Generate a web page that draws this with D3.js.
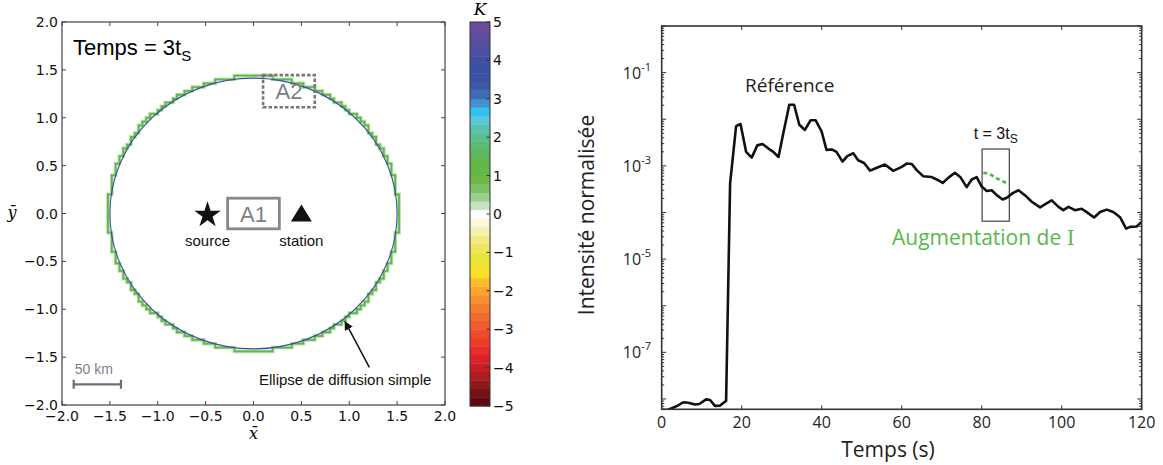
<!DOCTYPE html>
<html><head><meta charset="utf-8">
<script src="https://cdn.jsdelivr.net/npm/d3@7"></script>
<style>body{margin:0;background:#fff}svg{display:block}</style>
</head><body>
<svg id="c" width="1163" height="465"></svg>
<script>
// ---------- DATA ----------
// Left panel (normalised coordinates)
const mapTicks = [-2, -1.5, -1, -0.5, 0, 0.5, 1, 1.5, 2];
const mapTickLabels = ["\u22122.0","\u22121.5","\u22121.0","\u22120.5","0.0","0.5","1.0","1.5","2.0"];
const sourcePos = [-0.48, 0];
const stationPos = [0.50, 0];
const ellipseSemiAxes = [1.5, 1.414];     // single-scattering ellipse (a, b)
const sensitivityRing = 1.012;            // K>0 zone boundary (relative radius)
const gridCells = 100;                    // sensitivity-grid resolution
const regionA1 = [-0.27, 0.27, -0.16, 0.16];
const regionA2 = [0.10, 0.64, 1.11, 1.445];
const scaleBarKm = [-1.878, -1.384, -1.784];
const arrowFromTo = [[1.21, -1.606], [0.956, -1.13]];
// Colour bar
const cbarTicks = [5, 4, 3, 2, 1, 0, -1, -2, -3, -4, -5];
const cbarColors = [ // from K=-5 (bottom) to K=5 (top), 45 bands
 "#5c0912","#741118","#8e1a1f","#ab1c23","#c51f26","#dc2228","#e92c29","#ec3c2a","#ee4b2b",
 "#f05a2c","#f26a2d","#f47d2e","#f7912f","#f9a52e","#fcbc2b","#fddc2a","#f0e52e","#ebe63a",
 "#eee75e","#f2eb85","#f6f1b2","#fbf8d8","#ffffff","#c6e4c1","#9dd08f","#7dc168","#6cba45",
 "#64b846","#62b749","#5fb75a","#5cb972","#5bbd90","#5bc1b1","#5cc8d9","#2fc3ef","#4191d1",
 "#3e6cb3","#3b5ba9","#3953a5","#3b52a4","#4151a2","#4a50a0","#554f9f","#5f4e9e","#6a4c9c"];
// Right panel: reference intensity vs time
const timeS = [0,1.25,2.5,3.9,5.4,6.65,8.3,9.4,11.1,12.1,13.3,14.6,15.8,16.1,17.1,18.6,19.7,21.1,22.5,23.9,
 25.2,26.7,27.9,29.2,30.4,31.9,33.1,34.4,35.8,37.2,38.5,40.0,41.2,42.5,43.7,45.2,46.4,47.9,49.1,50.6,
 52.1,53.5,55.8,57.9,60.0,61.25,62.5,63.75,65.4,67.5,68.75,70.25,71.7,73.3,74.75,76.25,77.5,78.75,80.0,81.25,
 82.5,83.75,85.25,86.4,87.75,89.2,90.8,92.5,94.6,96.1,97.5,99.2,100.4,101.7,103.3,105.0,106.25,108.1,109.6,111.25,
 112.9,114.6,116.1,117.1,118.75,120];
const intensity = [5.75e-9,5.75e-9,6.3e-9,7.1e-9,8.5e-9,8.3e-9,7.6e-9,7.8e-9,9.8e-9,9.5e-9,7.1e-9,7.2e-9,8.7e-9,9.1e-9,4.2e-4,7.1e-3,7.9e-3,2.0e-3,1.5e-3,2.75e-3,
 2.95e-3,2.35e-3,2.0e-3,1.55e-3,5.0e-3,2.05e-2,2.05e-2,7.6e-3,5.9e-3,9.5e-3,9.5e-3,5.4e-3,2.2e-3,2.25e-3,2.0e-3,1.23e-3,1.62e-3,1.86e-3,1.32e-3,1.15e-3,
 7.9e-4,8.9e-4,1.07e-3,7.8e-4,9.5e-4,1.12e-3,1.10e-3,8.1e-4,6.0e-4,5.75e-4,5.1e-4,4.3e-4,5.6e-4,7.1e-4,5.6e-4,3.5e-4,5.1e-4,5.75e-4,3.6e-4,2.9e-4,
 3.0e-4,2.35e-4,1.9e-4,2.1e-4,2.6e-4,3.0e-4,2.35e-4,1.7e-4,1.29e-4,1.55e-4,1.82e-4,1.32e-4,1.12e-4,1.32e-4,1.12e-4,1.2e-4,1.02e-4,7.8e-5,1.02e-4,1.15e-4,
 1.02e-4,7.9e-5,4.5e-5,4.9e-5,5.0e-5,6.3e-5];
// Perturbed intensity (green) around t = 3 ts
const timePert = [80.4, 81.4, 82.5, 83.75, 86.4];
const intensityPert = [7.1e-4, 6.9e-4, 6.3e-4, 5.4e-4, 4.2e-4];
const windowBox = [80.1, 86.9, 6.5e-5, 2.3e-3];
const timeTicks = [0, 20, 40, 60, 80, 100, 120];
const intensityLabelExp = [-1, -3, -5, -7];

// ---------- DRAW ----------
const svg = d3.select("#c");
const dejavu = "'DejaVu Sans', sans-serif";
const arial = "'Liberation Sans', Arial, sans-serif";
const myriad = "'Open Sans', 'Noto Sans', sans-serif";

// ===== Left panel =====
const lx = d3.scaleLinear([-2, 2], [62, 445]);
const ly = d3.scaleLinear([-2, 2], [405, 22]);
const L = svg.append("g");
L.append("clipPath").attr("id","clipL").append("rect")
 .attr("x",lx(-2)).attr("y",ly(2)).attr("width",lx(2)-lx(-2)).attr("height",ly(-2)-ly(2));

// sensitivity staircase ring
const [ea, eb] = ellipseSemiAxes;
const cs = 4 / gridCells;
const inside = (i, j) => {
  if (i < 0 || j < 0 || i >= gridCells || j >= gridCells) return false;
  const x = -2 + (i + 0.5) * cs, y = -2 + (j + 0.5) * cs;
  return Math.hypot(x / ea, y / eb) <= sensitivityRing;
};
let ringPath = "";
for (let i = 0; i < gridCells; i++) for (let j = 0; j < gridCells; j++) {
  if (!inside(i, j)) continue;
  const x0 = lx(-2 + i * cs), x1 = lx(-2 + (i + 1) * cs);
  const y0 = ly(-2 + j * cs), y1 = ly(-2 + (j + 1) * cs);
  if (!inside(i - 1, j)) ringPath += `M${x0},${y0}L${x0},${y1}`;
  if (!inside(i + 1, j)) ringPath += `M${x1},${y0}L${x1},${y1}`;
  if (!inside(i, j - 1)) ringPath += `M${x0},${y0}L${x1},${y0}`;
  if (!inside(i, j + 1)) ringPath += `M${x0},${y1}L${x1},${y1}`;
}
const gR = L.append("g").attr("clip-path","url(#clipL)");
gR.append("path").attr("d", ringPath).attr("fill","none").attr("stroke","#b9e0a8")
 .attr("stroke-width",3.6).attr("stroke-linecap","square");
gR.append("path").attr("d", ringPath).attr("fill","none").attr("stroke","#5fb848")
 .attr("stroke-width",1.8).attr("stroke-linecap","square");
gR.append("ellipse").attr("cx",lx(0)).attr("cy",ly(0))
 .attr("rx",lx(ea)-lx(0)).attr("ry",ly(0)-ly(eb))
 .attr("fill","none").attr("stroke","#3b4ea6").attr("stroke-width",1.1);

// frame
L.append("rect").attr("x",lx(-2)).attr("y",ly(2)).attr("width",lx(2)-lx(-2)).attr("height",ly(-2)-ly(2))
 .attr("fill","none").attr("stroke","#444").attr("stroke-width",1.2);
// ticks (inside, all sides)
mapTicks.forEach(t => {
  L.append("line").attr("x1",lx(t)).attr("x2",lx(t)).attr("y1",ly(-2)).attr("y2",ly(-2)-4).attr("stroke","#444");
  L.append("line").attr("x1",lx(t)).attr("x2",lx(t)).attr("y1",ly(2)).attr("y2",ly(2)+4).attr("stroke","#444");
  L.append("line").attr("y1",ly(t)).attr("y2",ly(t)).attr("x1",lx(-2)).attr("x2",lx(-2)+4).attr("stroke","#444");
  L.append("line").attr("y1",ly(t)).attr("y2",ly(t)).attr("x1",lx(2)).attr("x2",lx(2)-4).attr("stroke","#444");
});
mapTicks.forEach((t, k) => {
  L.append("text").attr("x",lx(t)).attr("y",ly(-2)+16).attr("text-anchor","middle")
   .attr("font-family",dejavu).attr("font-size",14).attr("fill","#111").text(mapTickLabels[k]);
  L.append("text").attr("x",lx(-2)-4).attr("y",ly(t)+5).attr("text-anchor","end")
   .attr("font-family",dejavu).attr("font-size",14).attr("fill","#111").text(mapTickLabels[k]);
});
L.append("text").attr("x",(lx(-2)+lx(2))/2).attr("y",439).attr("text-anchor","middle")
 .attr("font-family","'DejaVu Serif', serif").attr("font-style","italic").attr("font-size",16).text("x\u0304");
L.append("text").attr("x",12).attr("y",ly(0)+4).attr("text-anchor","middle")
 .attr("font-family","'DejaVu Serif', serif").attr("font-style","italic").attr("font-size",16).text("\u0233");

// title text
const tt = L.append("text").attr("x",lx(-1.885)).attr("y",ly(1.655))
 .attr("font-family",arial).attr("font-size",22).attr("fill","#000");
tt.append("tspan").text("Temps = 3t");
tt.append("tspan").attr("font-size",15).attr("dy",6).text("S");

// regions A1, A2
L.append("rect").attr("x",lx(regionA1[0])).attr("y",ly(regionA1[3]))
 .attr("width",lx(regionA1[1])-lx(regionA1[0])).attr("height",ly(regionA1[2])-ly(regionA1[3]))
 .attr("fill","none").attr("stroke","#888").attr("stroke-width",2.8);
L.append("text").attr("x",lx((regionA1[0]+regionA1[1])/2)).attr("y",ly(0)+8).attr("text-anchor","middle")
 .attr("font-family",arial).attr("font-size",22).attr("fill","#808080").text("A1");
L.append("rect").attr("x",lx(regionA2[0])).attr("y",ly(regionA2[3]))
 .attr("width",lx(regionA2[1])-lx(regionA2[0])).attr("height",ly(regionA2[2])-ly(regionA2[3]))
 .attr("fill","none").attr("stroke","#777").attr("stroke-width",2.6).attr("stroke-dasharray","3.5,2");
L.append("text").attr("x",lx((regionA2[0]+regionA2[1])/2)).attr("y",ly((regionA2[2]+regionA2[3])/2)+8)
 .attr("text-anchor","middle").attr("font-family",arial).attr("font-size",22).attr("fill","#808080").text("A2");

// source star & station triangle
L.append("path").attr("d", d3.symbol(d3.symbolStar, 215)())
 .attr("transform",`translate(${lx(sourcePos[0])},${ly(sourcePos[1])+1.5})`).attr("fill","#111");
const triS = 10.5;
L.append("path").attr("d",`M0,${-triS*0.85}L${triS},${triS*0.75}L${-triS},${triS*0.75}Z`)
 .attr("transform",`translate(${lx(stationPos[0])},${ly(stationPos[1])})`).attr("fill","#111");
L.append("text").attr("x",lx(sourcePos[0])).attr("y",ly(sourcePos[1])+32).attr("text-anchor","middle")
 .attr("font-family",arial).attr("font-size",15).attr("fill","#111").text("source");
L.append("text").attr("x",lx(stationPos[0])).attr("y",ly(stationPos[1])+32).attr("text-anchor","middle")
 .attr("font-family",arial).attr("font-size",15).attr("fill","#111").text("station");

// scale bar
const sbY = ly(scaleBarKm[2]);
L.append("path").attr("d",`M${lx(scaleBarKm[0])},${sbY}L${lx(scaleBarKm[1])},${sbY}M${lx(scaleBarKm[0])},${sbY-4.5}L${lx(scaleBarKm[0])},${sbY+4.5}M${lx(scaleBarKm[1])},${sbY-4.5}L${lx(scaleBarKm[1])},${sbY+4.5}`)
 .attr("stroke","#6e6e7c").attr("stroke-width",2.2).attr("fill","none");
L.append("text").attr("x",lx(scaleBarKm[0])+1).attr("y",sbY-10).attr("font-family",arial)
 .attr("font-size",14).attr("fill","#7e7e88").text("50 km");

// arrow + label
const defs = svg.append("defs");
defs.append("marker").attr("id","ah").attr("viewBox","0 0 10 10").attr("refX",9).attr("refY",5)
 .attr("markerWidth",9).attr("markerHeight",9).attr("markerUnits","userSpaceOnUse").attr("orient","auto")
 .append("path").attr("d","M0,0L10,5L0,10Z").attr("fill","#111");
L.append("line").attr("x1",lx(arrowFromTo[0][0])).attr("y1",ly(arrowFromTo[0][1]))
 .attr("x2",lx(arrowFromTo[1][0])).attr("y2",ly(arrowFromTo[1][1]))
 .attr("stroke","#111").attr("stroke-width",1.5).attr("marker-end","url(#ah)");
L.append("text").attr("x",259).attr("y",385).attr("font-family",arial).attr("font-size",15)
 .attr("fill","#111").text("Ellipse de diffusion simple");

// ===== Colour bar =====
const cy = d3.scaleLinear([-5, 5], [406, 22]);
const cbX = 470, cbW = 20, nb = cbarColors.length, bw = 10 / nb;
svg.append("g").selectAll("rect").data(cbarColors).join("rect")
 .attr("x",cbX).attr("width",cbW)
 .attr("y",(d,i)=>cy(-5+(i+1)*bw)).attr("height",(d,i)=>cy(-5+i*bw)-cy(-5+(i+1)*bw)+0.4)
 .attr("fill",d=>d);
svg.append("rect").attr("x",cbX).attr("y",cy(5)).attr("width",cbW).attr("height",cy(-5)-cy(5))
 .attr("fill","none").attr("stroke","#333").attr("stroke-width",1);
cbarTicks.forEach(t=>{
  svg.append("line").attr("x1",cbX+cbW).attr("x2",cbX+cbW-3.5).attr("y1",cy(t)).attr("y2",cy(t)).attr("stroke","#333");
  svg.append("text").attr("x",cbX+cbW+3).attr("y",cy(t)+5).attr("font-family",dejavu).attr("font-size",14)
   .attr("fill","#111").text(t<0?"\u2212"+(-t):String(t));
});
svg.append("text").attr("x",cbX+cbW/2).attr("y",15).attr("text-anchor","middle")
 .attr("font-family","'DejaVu Serif', serif").attr("font-style","italic").attr("font-size",17).text("K");

// ===== Right panel =====
const rx = d3.scaleLinear([0, 120], [661.7, 1141.7]);
const ry = d3.scaleLog([6e-9, 1], [409.3, 26]);
const R = svg.append("g");
R.append("clipPath").attr("id","clipR").append("rect")
 .attr("x",rx(0)).attr("y",ry(1)).attr("width",rx(120)-rx(0)).attr("height",ry(6e-9)-ry(1));

// window box
R.append("rect").attr("x",rx(windowBox[0])).attr("y",ry(windowBox[3]))
 .attr("width",rx(windowBox[1])-rx(windowBox[0])).attr("height",ry(windowBox[2])-ry(windowBox[3]))
 .attr("fill","none").attr("stroke","#333").attr("stroke-width",1.1);

const line = d3.line().x(d=>rx(d[0])).y(d=>ry(d[1]));
R.append("path").attr("clip-path","url(#clipR)")
 .attr("d", line(timeS.map((t,i)=>[t,intensity[i]])))
 .attr("fill","none").attr("stroke","#111").attr("stroke-width",2.6).attr("stroke-linejoin","round");
R.append("path").attr("d", line(timePert.map((t,i)=>[t,intensityPert[i]])))
 .attr("fill","none").attr("stroke","#4cb847").attr("stroke-width",2.6).attr("stroke-dasharray","4,3");

// frame
R.append("rect").attr("x",rx(0)).attr("y",ry(1)).attr("width",rx(120)-rx(0)).attr("height",ry(6e-9)-ry(1))
 .attr("fill","none").attr("stroke","#333").attr("stroke-width",1.6);
// x ticks
timeTicks.forEach(t=>{
  R.append("line").attr("x1",rx(t)).attr("x2",rx(t)).attr("y1",ry(6e-9)).attr("y2",ry(6e-9)-4).attr("stroke","#333");
  R.append("line").attr("x1",rx(t)).attr("x2",rx(t)).attr("y1",ry(1)).attr("y2",ry(1)+4).attr("stroke","#333");
  R.append("text").attr("x",rx(t)).attr("y",428).attr("text-anchor","middle").attr("font-family",myriad)
   .attr("font-size",16).attr("fill","#222").text(t);
});
// y ticks (log)
for (let e = -9; e <= 0; e++) {
  for (let m = 1; m <= 9; m++) {
    const v = m * Math.pow(10, e);
    if (v < 6e-9 || v > 1.0001) continue;
    const len = m === 1 ? 4.5 : 2.5;
    R.append("line").attr("x1",rx(0)).attr("x2",rx(0)+len).attr("y1",ry(v)).attr("y2",ry(v)).attr("stroke","#333");
    R.append("line").attr("x1",rx(120)).attr("x2",rx(120)-len).attr("y1",ry(v)).attr("y2",ry(v)).attr("stroke","#333");
  }
}
intensityLabelExp.forEach(e=>{
  const t = R.append("text").attr("x",651).attr("y",ry(Math.pow(10,e))+6).attr("text-anchor","end")
   .attr("font-family",myriad).attr("font-size",16).attr("fill","#222");
  t.append("tspan").text("10");
  t.append("tspan").attr("font-size",11).attr("dy",-8).text(String(e));
});
R.append("text").attr("transform",`translate(594,215) rotate(-90)`).attr("text-anchor","middle")
 .attr("font-family",myriad).attr("font-size",21).attr("fill","#222").text("Intensité normalisée");
R.append("text").attr("x",888).attr("y",457).attr("text-anchor","middle")
 .attr("font-family",myriad).attr("font-size",21).attr("fill","#222").text("Temps (s)");

// annotations
R.append("text").attr("x",745).attr("y",92).attr("font-family",myriad).attr("font-size",19)
 .attr("fill","#222").text("Référence");
const t3 = R.append("text").attr("x",rx((windowBox[0]+windowBox[1])/2)).attr("y",139).attr("text-anchor","middle")
 .attr("font-family",arial).attr("font-size",16).attr("fill","#111");
t3.append("tspan").text("t = 3t");
t3.append("tspan").attr("font-size",12).attr("dy",4).text("S");
const ag = R.append("text").attr("x",892).attr("y",245).attr("font-family",myriad).attr("font-size",21)
 .attr("fill","#57b94a");
ag.append("tspan").text("Augmentation de ");
ag.append("tspan").attr("font-family","'DejaVu Serif', 'Liberation Serif', serif").attr("font-size",20).text("I");
</script>
</body></html>
